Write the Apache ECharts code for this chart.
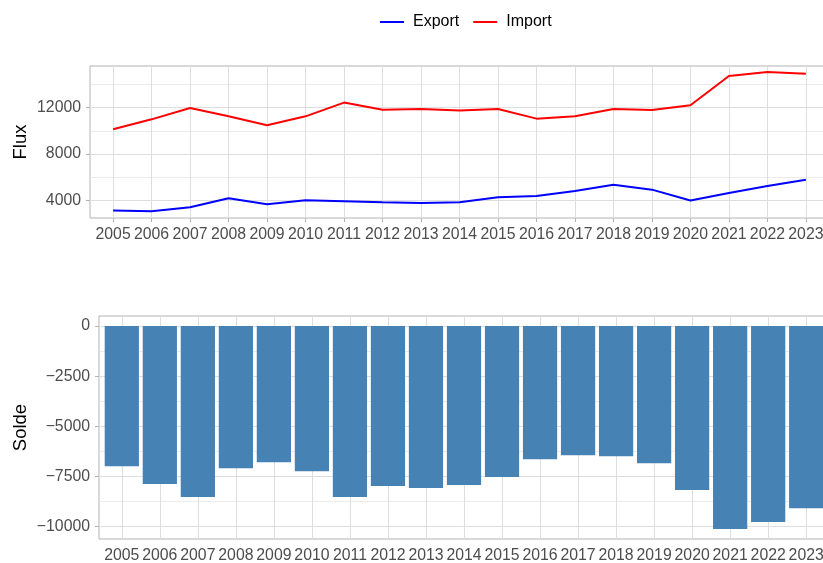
<!DOCTYPE html>
<html>
<head>
<meta charset="utf-8">
<script src="https://cdn.jsdelivr.net/npm/echarts@6/dist/echarts.min.js"></script>
<style>
  html, body { margin: 0; padding: 0; background: #fff; }
  #chart { width: 823px; height: 563px; }
</style>
</head>
<body>
<div id="chart"></div>
<script>
// Yearly trade flows
const years = [2005, 2006, 2007, 2008, 2009, 2010, 2011, 2012, 2013, 2014,
               2015, 2016, 2017, 2018, 2019, 2020, 2021, 2022, 2023];
const exportVals = [3140, 3080, 3420, 4200, 3680, 4030, 3940, 3850, 3800, 3850,
                    4280, 4400, 4830, 5370, 4940, 4000, 4660, 5260, 5800];
const importVals = [10130, 10990, 11970, 11250, 10480, 11250, 12430, 11820, 11870, 11740,
                    11880, 11050, 11250, 11880, 11800, 12200, 14720, 15060, 14920];
const soldeVals = [-6990, -7880, -8530, -7090, -6790, -7240, -8530, -7980, -8080, -7930,
                   -7530, -6640, -6440, -6490, -6840, -8180, -10120, -9770, -9080];

const fluxMajor = [4000, 8000, 12000];
const fluxMinor = [6000, 10000, 14000];
const soldeMajor = [0, -2500, -5000, -7500, -10000];
const soldeMinor = [-1250, -3750, -6250, -8750];

const FONT = '"Liberation Sans", Arial, sans-serif';
const GRID_COLOR = '#DEDEDE';
const BORDER_COLOR = '#B3B3B3';
const LABEL_COLOR = '#4D4D4D';
const TICK_FONT = 15.8;

const fmtNum = v => String(v).replace('-', '\u2212');

function xAxisDef(gridIndex) {
  return {
    type: 'value', gridIndex,
    min: years[0] - 0.6, max: years[years.length - 1] + 0.6,
    axisLine: { show: false },
    axisTick: { show: true, customValues: years, length: 4, lineStyle: { color: BORDER_COLOR } },
    axisLabel: { customValues: years, formatter: v => String(v), color: LABEL_COLOR,
                 fontFamily: FONT, fontSize: TICK_FONT, margin: 9 },
    splitLine: { show: true, lineStyle: { color: GRID_COLOR, width: 1 } }
  };
}

function yAxisMajor(gridIndex, min, max, ticks, name, nameGap) {
  return {
    type: 'value', gridIndex, min, max,
    name, nameLocation: 'middle', nameGap, nameRotate: 90, nameMoveOverlap: false,
    nameTextStyle: { color: '#000', fontFamily: FONT, fontSize: 18.5 },
    axisLine: { show: false },
    axisTick: { show: true, customValues: ticks, length: 4, lineStyle: { color: BORDER_COLOR } },
    axisLabel: { customValues: ticks, formatter: fmtNum, color: LABEL_COLOR,
                 fontFamily: FONT, fontSize: TICK_FONT, margin: 9 },
    splitLine: { show: true, lineStyle: { color: GRID_COLOR, width: 1 } }
  };
}

function yAxisMinor(gridIndex, min, max, ticks) {
  return {
    type: 'value', gridIndex, min, max, position: 'right',
    axisLine: { show: false },
    axisTick: { show: false, customValues: ticks },
    axisLabel: { show: false },
    splitLine: { show: true, lineStyle: { color: '#E6E6E6', width: 0.8 } }
  };
}

const chart = echarts.init(document.getElementById('chart'), null, { renderer: 'canvas' });

chart.setOption({
  animation: false,
  backgroundColor: '#fff',
  textStyle: { fontFamily: FONT },
  legend: {
    data: ['Export', 'Import'],
    left: 375, top: 9,
    icon: 'rect', itemWidth: 24, itemHeight: 2, itemGap: 14,
    textStyle: { color: '#000', fontFamily: FONT, fontSize: 16, padding: [0, 0, 0, 4] }
  },
  grid: [
    { left: 90, top: 66, right: -6, height: 152, show: true, borderColor: BORDER_COLOR,
      borderWidth: 1, backgroundColor: 'transparent', containLabel: false, outerBoundsMode: 'none' },
    { left: 99, top: 316, right: -6, height: 223, show: true, borderColor: BORDER_COLOR,
      borderWidth: 1, backgroundColor: 'transparent', containLabel: false, outerBoundsMode: 'none' }
  ],
  xAxis: [xAxisDef(0), xAxisDef(1)],
  yAxis: [
    yAxisMajor(0, 2500, 15580, fluxMajor, 'Flux', 60),
    yAxisMinor(0, 2500, 15580, fluxMinor),
    yAxisMajor(1, -10620, 505, soldeMajor, 'Solde', 69),
    yAxisMinor(1, -10620, 505, soldeMinor)
  ],
  series: [
    { name: 'Export', type: 'line', xAxisIndex: 0, yAxisIndex: 0,
      data: years.map((y, i) => [y, exportVals[i]]),
      showSymbol: false, lineStyle: { color: '#0000FF', width: 2 }, itemStyle: { color: '#0000FF' } },
    { name: 'Import', type: 'line', xAxisIndex: 0, yAxisIndex: 0,
      data: years.map((y, i) => [y, importVals[i]]),
      showSymbol: false, lineStyle: { color: '#FF0000', width: 2 }, itemStyle: { color: '#FF0000' } },
    { name: 'Solde', type: 'bar', xAxisIndex: 1, yAxisIndex: 2,
      data: years.map((y, i) => [y, soldeVals[i]]),
      barWidth: '90%', itemStyle: { color: '#4682B4' } }
  ]
});
</script>
</body>
</html>
